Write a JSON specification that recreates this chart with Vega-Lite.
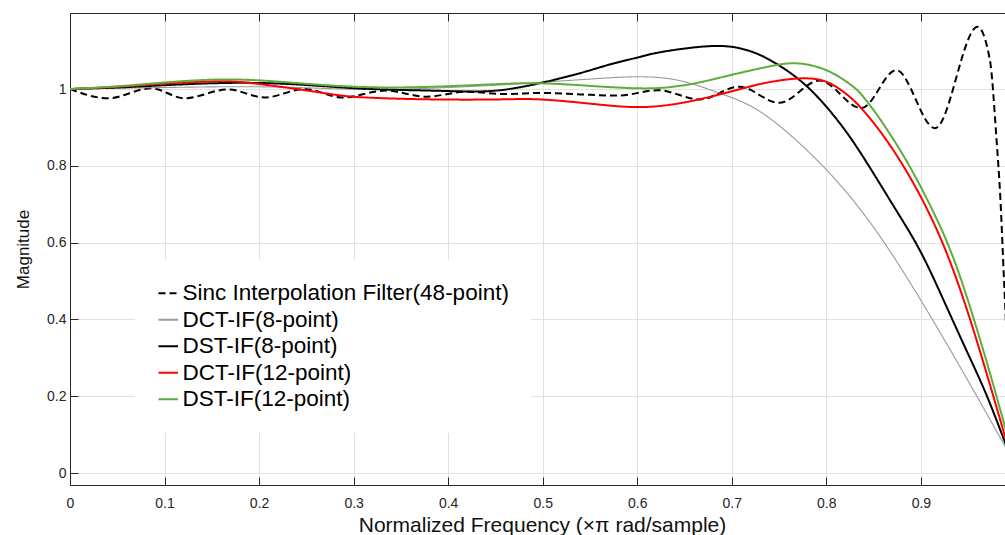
{
  "$schema": "https://vega.github.io/schema/vega-lite/v6.json",
  "width": 935,
  "height": 472,
  "autosize": {"type": "none"},
  "padding": {"left": 70, "top": 13, "right": 0, "bottom": 50},
  "background": "white",
  "config": {
    "view": {"stroke": null},
    "font": "Liberation Sans",
    "axis": {
      "domainColor": "#262626", "tickColor": "#262626", "labelColor": "#262626", "titleColor": "#111111",
      "gridColor": "#e2e2e2", "gridWidth": 1, "labelFont": "Liberation Sans", "titleFont": "Liberation Sans",
      "labelFontSize": 14, "titleFontSize": 17, "titleFontWeight": "normal", "domainWidth": 1, "tickWidth": 1
    },
    "legend": {
      "title": null, "orient": "none", "legendX": 65, "legendY": 247, "fillColor": "white",
      "padding": 22, "labelFontSize": 22.5, "labelFont": "Liberation Sans", "labelColor": "#000000",
      "symbolType": "stroke", "symbolSize": 380, "symbolStrokeWidth": 2, "rowPadding": 3.5, "labelOffset": 3, "labelLimit": 600
    }
  },
  "encoding": {
    "x": {
      "field": "x", "type": "quantitative",
      "scale": {"domain": [0, 0.989], "nice": false, "zero": false}
    },
    "y": {
      "field": "y", "type": "quantitative",
      "scale": {"domain": [-0.031, 1.198], "nice": false, "zero": false}
    }
  },
  "layer": [
    {
      "data": {"values": [
        {"series": "Sinc Interpolation Filter(48-point)", "x": 0, "y": 1.0},
        {"series": "Sinc Interpolation Filter(48-point)", "x": 0.04, "y": 0.976},
        {"series": "Sinc Interpolation Filter(48-point)", "x": 0.086, "y": 1.002},
        {"series": "Sinc Interpolation Filter(48-point)", "x": 0.121, "y": 0.976},
        {"series": "Sinc Interpolation Filter(48-point)", "x": 0.167, "y": 0.999},
        {"series": "Sinc Interpolation Filter(48-point)", "x": 0.206, "y": 0.978},
        {"series": "Sinc Interpolation Filter(48-point)", "x": 0.248, "y": 1.0},
        {"series": "Sinc Interpolation Filter(48-point)", "x": 0.288, "y": 0.978},
        {"series": "Sinc Interpolation Filter(48-point)", "x": 0.334, "y": 0.996},
        {"series": "Sinc Interpolation Filter(48-point)", "x": 0.377, "y": 0.98},
        {"series": "Sinc Interpolation Filter(48-point)", "x": 0.419, "y": 0.993},
        {"series": "Sinc Interpolation Filter(48-point)", "x": 0.46, "y": 0.987},
        {"series": "Sinc Interpolation Filter(48-point)", "x": 0.5, "y": 0.99},
        {"series": "Sinc Interpolation Filter(48-point)", "x": 0.54, "y": 0.986},
        {"series": "Sinc Interpolation Filter(48-point)", "x": 0.58, "y": 0.983},
        {"series": "Sinc Interpolation Filter(48-point)", "x": 0.622, "y": 0.997},
        {"series": "Sinc Interpolation Filter(48-point)", "x": 0.666, "y": 0.973},
        {"series": "Sinc Interpolation Filter(48-point)", "x": 0.708, "y": 1.006},
        {"series": "Sinc Interpolation Filter(48-point)", "x": 0.75, "y": 0.964},
        {"series": "Sinc Interpolation Filter(48-point)", "x": 0.793, "y": 1.022},
        {"series": "Sinc Interpolation Filter(48-point)", "x": 0.837, "y": 0.95},
        {"series": "Sinc Interpolation Filter(48-point)", "x": 0.874, "y": 1.049},
        {"series": "Sinc Interpolation Filter(48-point)", "x": 0.915, "y": 0.898},
        {"series": "Sinc Interpolation Filter(48-point)", "x": 0.96, "y": 1.162},
        {"series": "Sinc Interpolation Filter(48-point)", "x": 0.973, "y": 1.076},
        {"series": "Sinc Interpolation Filter(48-point)", "x": 0.98, "y": 0.87},
        {"series": "Sinc Interpolation Filter(48-point)", "x": 0.984, "y": 0.72},
        {"series": "Sinc Interpolation Filter(48-point)", "x": 0.988, "y": 0.5},
        {"series": "Sinc Interpolation Filter(48-point)", "x": 0.995, "y": 0.15},
        {"series": "Sinc Interpolation Filter(48-point)", "x": 1.0, "y": 0.0}
      ]},
      "mark": {"type": "line", "interpolate": "monotone", "clip": true, "strokeWidth": 2},
      "encoding": {
        "x": {
          "field": "x", "type": "quantitative",
          "axis": {
            "orient": "bottom", "values": [0, 0.1, 0.2, 0.3, 0.4, 0.5, 0.6, 0.7, 0.8, 0.9],
            "format": "~g", "tickSize": -8, "labelPadding": 19, "labelFlush": false,
            "grid": true, "title": "Normalized Frequency (×π rad/sample)", "titlePadding": 4,
            "titleFontSize": 21, "titleX": 472
          }
        },
        "y": {
          "field": "y", "type": "quantitative",
          "axis": {
            "values": [0, 0.2, 0.4, 0.6, 0.8, 1], "format": "~g", "tickSize": -8, "labelPadding": 12,
            "grid": true, "title": "Magnitude", "titlePadding": 14
          }
        },
        "color": {
          "field": "series", "type": "nominal",
          "scale": {
            "domain": ["Sinc Interpolation Filter(48-point)", "DCT-IF(8-point)", "DST-IF(8-point)", "DCT-IF(12-point)", "DST-IF(12-point)"],
            "range": ["#000000", "#9a9a9a", "#000000", "#ff0000", "#5fac3a"]
          }
        },
        "strokeDash": {
          "field": "series", "type": "nominal",
          "scale": {
            "domain": ["Sinc Interpolation Filter(48-point)", "DCT-IF(8-point)", "DST-IF(8-point)", "DCT-IF(12-point)", "DST-IF(12-point)"],
            "range": [[7, 4], [1, 0], [1, 0], [1, 0], [1, 0]]
          }
        }
      }
    },
    {
      "data": {"values": [
        {"series": "DCT-IF(8-point)", "x": 0, "y": 1.0},
        {"series": "DCT-IF(8-point)", "x": 0.05, "y": 1.002},
        {"series": "DCT-IF(8-point)", "x": 0.1, "y": 1.004},
        {"series": "DCT-IF(8-point)", "x": 0.17, "y": 1.006},
        {"series": "DCT-IF(8-point)", "x": 0.24, "y": 1.004},
        {"series": "DCT-IF(8-point)", "x": 0.31, "y": 0.999},
        {"series": "DCT-IF(8-point)", "x": 0.38, "y": 1.002},
        {"series": "DCT-IF(8-point)", "x": 0.45, "y": 1.01},
        {"series": "DCT-IF(8-point)", "x": 0.5, "y": 1.018},
        {"series": "DCT-IF(8-point)", "x": 0.55, "y": 1.026},
        {"series": "DCT-IF(8-point)", "x": 0.6, "y": 1.032},
        {"series": "DCT-IF(8-point)", "x": 0.645, "y": 1.022},
        {"series": "DCT-IF(8-point)", "x": 0.684, "y": 0.992},
        {"series": "DCT-IF(8-point)", "x": 0.715, "y": 0.962},
        {"series": "DCT-IF(8-point)", "x": 0.75, "y": 0.905},
        {"series": "DCT-IF(8-point)", "x": 0.8, "y": 0.79},
        {"series": "DCT-IF(8-point)", "x": 0.85, "y": 0.64},
        {"series": "DCT-IF(8-point)", "x": 0.9, "y": 0.45},
        {"series": "DCT-IF(8-point)", "x": 0.95, "y": 0.24},
        {"series": "DCT-IF(8-point)", "x": 0.989, "y": 0.07},
        {"series": "DCT-IF(8-point)", "x": 1.0, "y": 0.02},

        {"series": "DST-IF(8-point)", "x": 0, "y": 1.0},
        {"series": "DST-IF(8-point)", "x": 0.05, "y": 1.004},
        {"series": "DST-IF(8-point)", "x": 0.1, "y": 1.01},
        {"series": "DST-IF(8-point)", "x": 0.17, "y": 1.016},
        {"series": "DST-IF(8-point)", "x": 0.24, "y": 1.012},
        {"series": "DST-IF(8-point)", "x": 0.31, "y": 1.001},
        {"series": "DST-IF(8-point)", "x": 0.38, "y": 0.996},
        {"series": "DST-IF(8-point)", "x": 0.437, "y": 0.994},
        {"series": "DST-IF(8-point)", "x": 0.472, "y": 1.003},
        {"series": "DST-IF(8-point)", "x": 0.5, "y": 1.017},
        {"series": "DST-IF(8-point)", "x": 0.539, "y": 1.041},
        {"series": "DST-IF(8-point)", "x": 0.571, "y": 1.064},
        {"series": "DST-IF(8-point)", "x": 0.6, "y": 1.082},
        {"series": "DST-IF(8-point)", "x": 0.627, "y": 1.097},
        {"series": "DST-IF(8-point)", "x": 0.68, "y": 1.112},
        {"series": "DST-IF(8-point)", "x": 0.715, "y": 1.102},
        {"series": "DST-IF(8-point)", "x": 0.74, "y": 1.076},
        {"series": "DST-IF(8-point)", "x": 0.772, "y": 1.023},
        {"series": "DST-IF(8-point)", "x": 0.8, "y": 0.954},
        {"series": "DST-IF(8-point)", "x": 0.825, "y": 0.875},
        {"series": "DST-IF(8-point)", "x": 0.85, "y": 0.78},
        {"series": "DST-IF(8-point)", "x": 0.875, "y": 0.68},
        {"series": "DST-IF(8-point)", "x": 0.9, "y": 0.575},
        {"series": "DST-IF(8-point)", "x": 0.925, "y": 0.445},
        {"series": "DST-IF(8-point)", "x": 0.95, "y": 0.31},
        {"series": "DST-IF(8-point)", "x": 0.97, "y": 0.2},
        {"series": "DST-IF(8-point)", "x": 0.989, "y": 0.08},
        {"series": "DST-IF(8-point)", "x": 1.0, "y": 0.01},

        {"series": "DCT-IF(12-point)", "x": 0, "y": 1.0},
        {"series": "DCT-IF(12-point)", "x": 0.05, "y": 1.006},
        {"series": "DCT-IF(12-point)", "x": 0.1, "y": 1.014},
        {"series": "DCT-IF(12-point)", "x": 0.142, "y": 1.019},
        {"series": "DCT-IF(12-point)", "x": 0.17, "y": 1.02},
        {"series": "DCT-IF(12-point)", "x": 0.2, "y": 1.013},
        {"series": "DCT-IF(12-point)", "x": 0.243, "y": 0.999},
        {"series": "DCT-IF(12-point)", "x": 0.278, "y": 0.986},
        {"series": "DCT-IF(12-point)", "x": 0.313, "y": 0.978},
        {"series": "DCT-IF(12-point)", "x": 0.384, "y": 0.973},
        {"series": "DCT-IF(12-point)", "x": 0.454, "y": 0.973},
        {"series": "DCT-IF(12-point)", "x": 0.497, "y": 0.973},
        {"series": "DCT-IF(12-point)", "x": 0.55, "y": 0.962},
        {"series": "DCT-IF(12-point)", "x": 0.6, "y": 0.953},
        {"series": "DCT-IF(12-point)", "x": 0.645, "y": 0.963},
        {"series": "DCT-IF(12-point)", "x": 0.684, "y": 0.984},
        {"series": "DCT-IF(12-point)", "x": 0.712, "y": 1.002},
        {"series": "DCT-IF(12-point)", "x": 0.74, "y": 1.018},
        {"series": "DCT-IF(12-point)", "x": 0.776, "y": 1.028},
        {"series": "DCT-IF(12-point)", "x": 0.8, "y": 1.019},
        {"series": "DCT-IF(12-point)", "x": 0.814, "y": 1.0},
        {"series": "DCT-IF(12-point)", "x": 0.83, "y": 0.968},
        {"series": "DCT-IF(12-point)", "x": 0.85, "y": 0.912},
        {"series": "DCT-IF(12-point)", "x": 0.87, "y": 0.844},
        {"series": "DCT-IF(12-point)", "x": 0.89, "y": 0.764},
        {"series": "DCT-IF(12-point)", "x": 0.91, "y": 0.67},
        {"series": "DCT-IF(12-point)", "x": 0.93, "y": 0.556},
        {"series": "DCT-IF(12-point)", "x": 0.95, "y": 0.416},
        {"series": "DCT-IF(12-point)", "x": 0.97, "y": 0.256},
        {"series": "DCT-IF(12-point)", "x": 0.989, "y": 0.096},
        {"series": "DCT-IF(12-point)", "x": 1.0, "y": 0.005},

        {"series": "DST-IF(12-point)", "x": 0, "y": 1.0},
        {"series": "DST-IF(12-point)", "x": 0.05, "y": 1.007},
        {"series": "DST-IF(12-point)", "x": 0.1, "y": 1.017},
        {"series": "DST-IF(12-point)", "x": 0.17, "y": 1.025},
        {"series": "DST-IF(12-point)", "x": 0.243, "y": 1.015},
        {"series": "DST-IF(12-point)", "x": 0.313, "y": 1.005},
        {"series": "DST-IF(12-point)", "x": 0.384, "y": 1.006},
        {"series": "DST-IF(12-point)", "x": 0.454, "y": 1.013},
        {"series": "DST-IF(12-point)", "x": 0.497, "y": 1.015},
        {"series": "DST-IF(12-point)", "x": 0.539, "y": 1.01},
        {"series": "DST-IF(12-point)", "x": 0.599, "y": 1.002},
        {"series": "DST-IF(12-point)", "x": 0.638, "y": 1.006},
        {"series": "DST-IF(12-point)", "x": 0.669, "y": 1.019},
        {"series": "DST-IF(12-point)", "x": 0.705, "y": 1.04},
        {"series": "DST-IF(12-point)", "x": 0.74, "y": 1.059},
        {"series": "DST-IF(12-point)", "x": 0.768, "y": 1.067},
        {"series": "DST-IF(12-point)", "x": 0.8, "y": 1.049},
        {"series": "DST-IF(12-point)", "x": 0.828, "y": 1.007},
        {"series": "DST-IF(12-point)", "x": 0.84, "y": 0.977},
        {"series": "DST-IF(12-point)", "x": 0.853, "y": 0.935},
        {"series": "DST-IF(12-point)", "x": 0.873, "y": 0.861},
        {"series": "DST-IF(12-point)", "x": 0.893, "y": 0.777},
        {"series": "DST-IF(12-point)", "x": 0.913, "y": 0.681},
        {"series": "DST-IF(12-point)", "x": 0.933, "y": 0.569},
        {"series": "DST-IF(12-point)", "x": 0.953, "y": 0.425},
        {"series": "DST-IF(12-point)", "x": 0.973, "y": 0.261},
        {"series": "DST-IF(12-point)", "x": 0.989, "y": 0.12},
        {"series": "DST-IF(12-point)", "x": 1.0, "y": 0.02}
      ]},
      "mark": {"type": "line", "interpolate": "natural", "clip": true},
      "encoding": {
        "x": {"field": "x", "type": "quantitative", "axis": null},
        "y": {"field": "y", "type": "quantitative"},
        "color": {"field": "series", "type": "nominal"},
        "strokeDash": {"field": "series", "type": "nominal"},
        "strokeWidth": {"condition": {"test": "datum.series === 'DCT-IF(8-point)'", "value": 1.1}, "value": 2}
      }
    },
    {
      "data": {"values": [{"x": 0}]},
      "mark": {"type": "rule", "opacity": 0},
      "encoding": {
        "x": {
          "field": "x", "type": "quantitative",
          "axis": {
            "orient": "top", "values": [0.1, 0.2, 0.3, 0.4, 0.5, 0.6, 0.7, 0.8, 0.9],
            "labels": false, "grid": false, "tickSize": -8, "title": null
          }
        },
        "y": null
      }
    }
  ],
  "resolve": {"axis": {"x": "independent"}}
}
